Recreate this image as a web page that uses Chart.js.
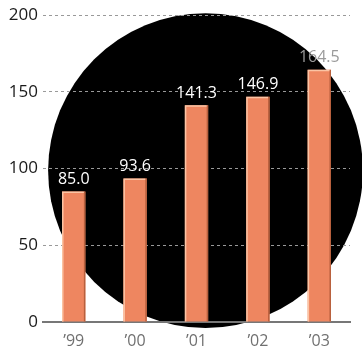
<!DOCTYPE html>
<html>
<head>
<meta charset="utf-8">
<script src="https://cdn.jsdelivr.net/npm/chart.js@4"></script>
<style>
  html, body { margin: 0; padding: 0; background: #fff; }
  #wrap { width: 362px; height: 346px; }
</style>
</head>
<body>
<div id="wrap"><canvas id="chart"></canvas></div>
<script>
// ─── Data ─────────────────────────────────────────────────────────────────────

const YEARS  = ['\u201999', '\u201900', '\u201901', '\u201902', '\u201903'];
const VALUES = [85.0, 93.6, 141.3, 146.9, 164.5];
const Y_TICKS = [0, 50, 100, 150, 200];

const COLORS = {
  bar:       '#ee8660',
  barLight:  '#fbc4a4',
  barDark:   '#b8603e',
  grid:      '#999999',
  axis:      '#777',
  yText:     '#1a1a1a',
  xText:     '#707070',
  label:     '#ffffff',
  labelOut:  '#9a9a9a',
  disc:      '#000',
};

const FONT = "'Open Sans', 'Noto Sans', sans-serif";

// ─── Plugins ──────────────────────────────────────────────────────────────────

// big black disc sitting behind the grid and bars
const discPlugin = {
  id: 'disc',
  beforeDraw(chart) {
    const { ctx, chartArea: a } = chart;
    const cx = (a.left + a.right) / 2 + 9;
    const cy = (a.top + a.bottom) / 2 + 2;
    const r  = (a.bottom - a.top) / 2 + 4;
    ctx.save();
    ctx.fillStyle = COLORS.disc;
    ctx.beginPath();
    ctx.arc(cx, cy, r, 0, Math.PI * 2);
    ctx.fill();
    ctx.restore();
  },
};

// bevel edges on bars + value labels on top
const barDecor = {
  id: 'barDecor',
  afterDatasetsDraw(chart) {
    const { ctx } = chart;
    const meta = chart.getDatasetMeta(0);
    ctx.save();
    meta.data.forEach((bar, i) => {
      const l = bar.x - bar.width / 2;
      const r = bar.x + bar.width / 2;
      const t = bar.y;
      const b = bar.base;
      ctx.lineWidth = 1.5;
      ctx.strokeStyle = COLORS.barDark;
      ctx.beginPath();
      ctx.moveTo(r - 0.75, t);
      ctx.lineTo(r - 0.75, b);
      ctx.stroke();
      ctx.strokeStyle = COLORS.barLight;
      ctx.beginPath();
      ctx.moveTo(l + 0.75, b);
      ctx.lineTo(l + 0.75, t + 0.75);
      ctx.lineTo(r - 1.5, t + 0.75);
      ctx.stroke();

      ctx.font = `16px ${FONT}`;
      ctx.textAlign = 'center';
      ctx.textBaseline = 'bottom';
      ctx.fillStyle = i === VALUES.length - 1 ? COLORS.labelOut : COLORS.label;
      ctx.fillText(VALUES[i].toFixed(1), bar.x, t - 4);
    });
    ctx.restore();
  },
};

// ─── Chart ────────────────────────────────────────────────────────────────────

new Chart(document.getElementById('chart'), {
  type: 'bar',
  data: {
    labels: YEARS,
    datasets: [{
      data: VALUES,
      backgroundColor: COLORS.bar,
      borderWidth: 0,
      barPercentage: 0.38,
      categoryPercentage: 1,
    }],
  },
  options: {
    responsive: true,
    maintainAspectRatio: false,
    animation: false,
    layout: { padding: { top: 8, right: 12, bottom: 0, left: 0 } },
    plugins: {
      legend: { display: false },
      tooltip: { enabled: false },
    },
    scales: {
      x: {
        grid: { display: false, drawTicks: false },
        border: { display: true, color: COLORS.axis, width: 2 },
        ticks: {
          color: COLORS.xText,
          font: { family: FONT, size: 16 },
          padding: 10,
        },
        afterFit: s => { s.height = 24; },
      },
      y: {
        min: 0,
        max: 200,
        afterBuildTicks: s => { s.ticks = Y_TICKS.map(v => ({ value: v })); },
        grid: {
          color: c => c.tick.value === 0 ? 'rgba(0,0,0,0)' : COLORS.grid,
          drawTicks: false,
          lineWidth: 1,
        },
        border: { display: false, dash: [3, 3] },
        ticks: {
          color: COLORS.yText,
          font: { family: FONT, size: 17 },
          padding: 5,
        },
        afterFit: s => { s.width = 43; },
      },
    },
  },
  plugins: [discPlugin, barDecor],
});
</script>
</body>
</html>
